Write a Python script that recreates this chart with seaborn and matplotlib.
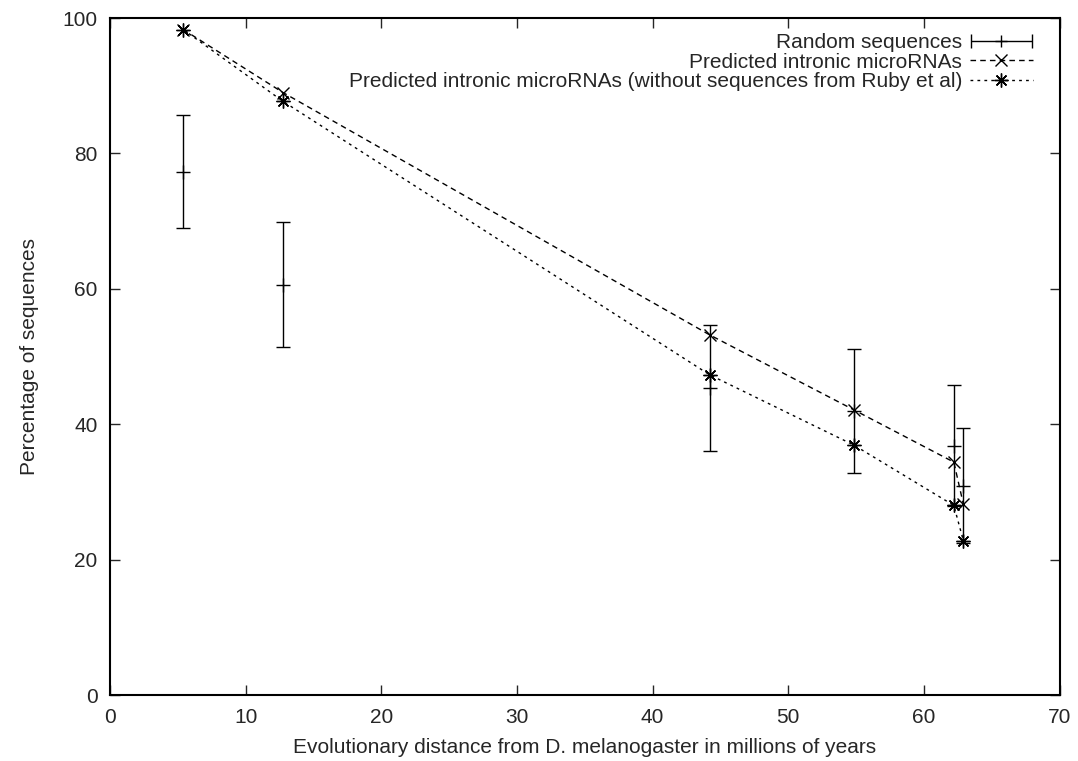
import numpy as np
import pandas as pd
import matplotlib
matplotlib.use("Agg")
import matplotlib.pyplot as plt
from matplotlib.legend_handler import HandlerErrorbar
import seaborn as sns

# Data
distance = [5.4, 12.75, 44.2, 54.85, 62.2, 62.9]
random_mean = [77.3, 60.6, 45.4, 42.0, 36.8, 30.9]
random_low = [69.0, 51.4, 36.1, 32.8, 27.9, 22.5]
random_high = [85.7, 69.8, 54.7, 51.1, 45.8, 39.4]
predicted = [98.3, 89.0, 53.2, 42.1, 34.4, 28.2]
predicted_no_ruby = [98.3, 87.7, 47.3, 36.9, 28.0, 22.8]

xticks = [0, 10, 20, 30, 40, 50, 60, 70]
yticks = [0, 20, 40, 60, 80, 100]

lab_random = "Random sequences"
lab_pred = "Predicted intronic microRNAs"
lab_noruby = "Predicted intronic microRNAs (without sequences from Ruby et al)"

sns.set_style("ticks")
plt.rcParams['font.family'] = ['Liberation Sans', 'DejaVu Sans']
plt.rcParams['font.size'] = 15

fig = plt.figure(figsize=(10.78, 7.61), dpi=100)
ax = fig.add_axes([0.102, 0.0867, 0.881, 0.8896])

df = pd.DataFrame({"x": distance, "pred": predicted, "noruby": predicted_no_ruby,
                   "rm": random_mean, "lo": random_low, "hi": random_high})

# Random sequences with error bars
yerr = np.vstack([df["rm"] - df["lo"], df["hi"] - df["rm"]])
ax.errorbar(df["x"], df["rm"], yerr=yerr, fmt='none', ecolor='black',
            elinewidth=1.0, capsize=5, capthick=1.0, zorder=2)
sns.scatterplot(data=df, x="x", y="rm", marker='+', color='black', s=110,
                linewidth=1.0, ax=ax, zorder=3, legend=False)

# Predicted lines
sns.lineplot(data=df, x="x", y="pred", ax=ax, color='black', linewidth=1.0,
             marker='x', markersize=9, markeredgewidth=1.0,
             markeredgecolor='black', sort=False,
             dashes=False, estimator=None, zorder=4)
ax.lines[-1].set_dashes([4, 3])
sns.lineplot(data=df, x="x", y="noruby", ax=ax, color='black', linewidth=1.0,
             marker=(8, 2, 0), markersize=10, markeredgewidth=1.0,
             markeredgecolor='black', sort=False,
             dashes=False, estimator=None, zorder=4)
ax.lines[-1].set_dashes([2, 3])

# Legend proxies
h_rand = ax.errorbar([np.nan], [np.nan], xerr=[1], fmt='+', color='black',
                     markersize=9, elinewidth=1.0, capsize=5, capthick=1.0,
                     markeredgewidth=1.0)
h_pred = matplotlib.lines.Line2D([], [], color='black', linewidth=1.0,
                                 dashes=[4, 3], marker='x', markersize=9)
h_nr = matplotlib.lines.Line2D([], [], color='black', linewidth=1.0,
                               dashes=[2, 3], marker=(8, 2, 0), markersize=10)
leg = ax.legend([h_rand, h_pred, h_nr], [lab_random, lab_pred, lab_noruby],
                loc='upper right', bbox_to_anchor=(0.987, 0.999),
                frameon=False, markerfirst=False, handlelength=3.0,
                handletextpad=0.4, labelspacing=0.02, fontsize=15,
                borderpad=0.2,
                handler_map={type(h_rand): HandlerErrorbar(xerr_size=1.45)})

ax.set_xlim(0, 70)
ax.set_ylim(0, 100)
ax.set_xticks(xticks)
ax.set_yticks(yticks)
ax.tick_params(direction='in', top=True, right=True, length=7, width=1.0,
               labelsize=15, pad=9)
for s in ax.spines.values():
    s.set_linewidth(1.5)
    s.set_color('black')
ax.set_xlabel("Evolutionary distance from D. melanogaster in millions of years",
              fontsize=15, labelpad=8)
ax.set_ylabel("Percentage of sequences", fontsize=15, labelpad=17)

fig.savefig("out.png", dpi=100)
